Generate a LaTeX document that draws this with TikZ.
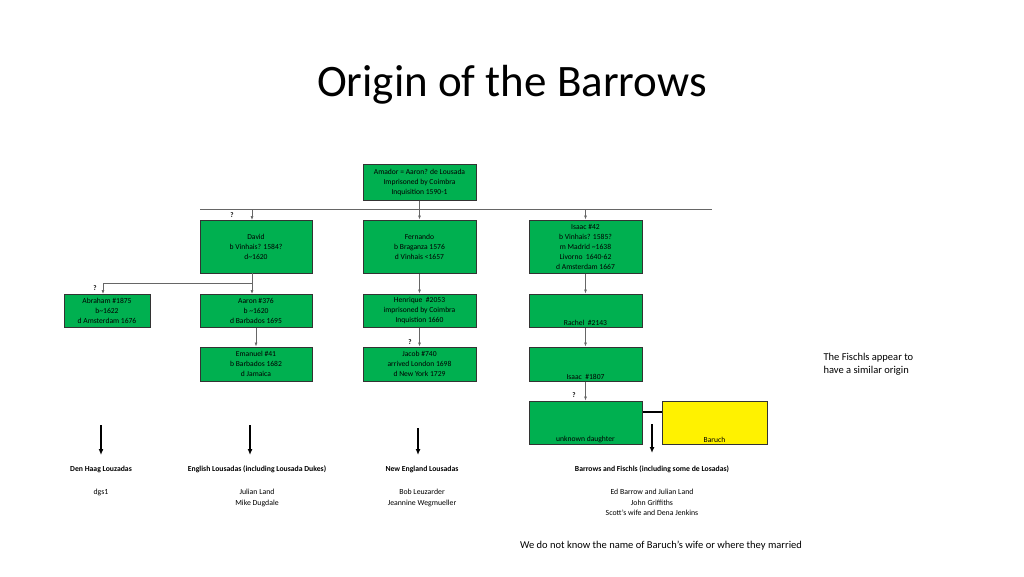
\documentclass[tikz,border=0pt]{standalone}
\usepackage{fontspec}
\setmainfont{Carlito}
\usetikzlibrary{arrows.meta}
\definecolor{bx}{RGB}{0,176,80}
\begin{document}
\begin{tikzpicture}[x=1pt,y=-1pt,
  box/.style={draw=black!80,line width=1pt,fill=bx,align=center,font=\fontsize{7.6}{10}\selectfont,inner sep=0pt},
  bl/.style={anchor=south,inner sep=1.5pt,font=\fontsize{7.6}{9}\selectfont},
  conn/.style={draw=black!60,line width=0.6pt,-{Latex[length=4pt,width=3pt]}},
  big/.style={line width=1.3pt,-{Latex[length=6pt,width=5pt]}},
  lab/.style={font=\fontsize{7.7}{9}\selectfont,align=center},
  q/.style={font=\fontsize{7}{8}\selectfont\bfseries}]
\useasboundingbox (0,0) rectangle (1024,576);
\node[font=\fontsize{45}{50}\selectfont] (title) at (512,85) {Origin of the Barrows};
% row 0
\node[box,minimum width=113,minimum height=36] (am) at (419.5,182) {Amador = Aaron? de Lousada\\Imprisoned by Coimbra\\Inquisition 1590-1};
% row 1
\node[box,minimum width=112,minimum height=53] (da) at (256,246.5) {David\\b Vinhais? 1584?\\d\textasciitilde1620};
\node[box,minimum width=113,minimum height=53] (fe) at (419.5,246.5) {Fernando\\b Braganza 1576\\d Vinhais <1657};
\node[box,minimum width=113,minimum height=53] (is) at (585.5,246.5) {Isaac \#42\\b Vinhais? 1585?\\m Madrid \textasciitilde1638\\Livorno\ \ 1640-62\\d Amsterdam 1667};
% row 2
\node[box,minimum width=86,minimum height=33] (ab) at (107,310.5) {Abraham \#1875\\b\textasciitilde1622\\d Amsterdam 1676};
\node[box,minimum width=112,minimum height=33] (aa) at (256,310.5) {Aaron \#376\\b \textasciitilde1620\\d Barbados 1695};
\node[box,minimum width=113,minimum height=33] (he) at (419.5,310.5) {Henrique\ \ \#2053\\imprisoned by Coimbra\\Inquistion 1660};
\node[box,minimum width=113,minimum height=33,label={[bl]south:Rachel\ \ \#2143}] (ra) at (585.5,310.5) {};
% row 3
\node[box,minimum width=112,minimum height=34] (em) at (256,364) {Emanuel \#41\\b Barbados 1682\\d Jamaica};
\node[box,minimum width=113,minimum height=34] (ja) at (419.5,364) {Jacob \#740\\arrived London 1698\\d New York 1729};
\node[box,minimum width=113,minimum height=34,label={[bl]south:Isaac\ \ \#1807}] (i2) at (585.5,364) {};
% row 4
\node[box,minimum width=113,minimum height=43,label={[bl]south:unknown daughter}] (ud) at (585.5,422.5) {};
\node[box,fill=yellow,minimum width=105,minimum height=43,label={[bl]south:Baruch}] (ba) at (714.5,422.5) {};
% connectors
\coordinate (hl) at (200,209); \coordinate (hr) at (712,209);
\draw[black!60,line width=0.6pt] (hl) -- (hr);
\draw[black!60,line width=0.6pt] (am.south) -- (419.5,209);
\draw[conn] (252,209) -- (252,220);
\draw[conn] (419.5,209) -- (fe.north);
\draw[conn] (585.5,209) -- (is.north);
\node[q] (q1) at (232,215) {?};
\draw[conn] (252,273) -- (252,294);
\draw[conn] (252,283) -- (103,283) -- (103,294);
\node[q] (q2) at (95,288) {?};
\draw[conn] (fe.south) -- (he.north);
\draw[conn] (is.south) -- (ra.north);
\draw[conn] (aa.south) -- (em.north);
\draw[conn] (he.south) -- (ja.north);
\node[q] (q3) at (410,342) {?};
\draw[conn] (ra.south) -- (i2.north);
\draw[conn] (i2.south) -- (ud.north);
\node[q] (q4) at (574,395) {?};
\draw[line width=2.5pt] (ud.east |- 0,412) -- (ba.west |- 0,412);
% big arrows
\coordinate (a1) at (101,425); \coordinate (b1) at (101,455);
\coordinate (a2) at (250,425); \coordinate (b2) at (250,455);
\coordinate (a3) at (418,428); \coordinate (b3) at (418,455);
\coordinate (a4) at (652,424); \coordinate (b4) at (652,453);
\draw[big] (a1) -- (b1); \draw[big] (a2) -- (b2); \draw[big] (a3) -- (b3); \draw[big] (a4) -- (b4);
% labels
\node[lab,font=\fontsize{7.7}{9}\selectfont\bfseries] (l1) at (101,469) {Den Haag Louzadas};
\node[lab,font=\fontsize{7.7}{9}\selectfont\bfseries] (l2) at (257,469) {English Lousadas (including Lousada Dukes)};
\node[lab,font=\fontsize{7.7}{9}\selectfont\bfseries] (l3) at (422,469) {New England Lousadas};
\node[lab,font=\fontsize{7.7}{9}\selectfont\bfseries] (l4) at (652,469) {Barrows and Fischls (including some de Losadas)};
\node[lab,anchor=north,font=\fontsize{7.8}{10.5}\selectfont] (n1) at (101,486) {dgs1};
\node[lab,anchor=north,font=\fontsize{7.8}{10.5}\selectfont] (n2) at (257,486) {Julian Land\\Mike Dugdale};
\node[lab,anchor=north,font=\fontsize{7.8}{10.5}\selectfont] (n3) at (422,486) {Bob Leuzarder\\Jeannine Wegmueller};
\node[lab,anchor=north,font=\fontsize{7.8}{10.5}\selectfont] (n4) at (652,486) {Ed Barrow and Julian Land\\John Griffiths\\Scott's wife and Dena Jenkins};
\node[lab,align=left,anchor=west,font=\fontsize{10.5}{13}\selectfont] (fi) at (820,364.5) {The Fischls appear to\\have a similar origin};
\node[lab,font=\fontsize{10.5}{12}\selectfont] (bt) at (661,546) {We do not know the name of Baruch's wife or where they married};
\end{tikzpicture}
\end{document}
